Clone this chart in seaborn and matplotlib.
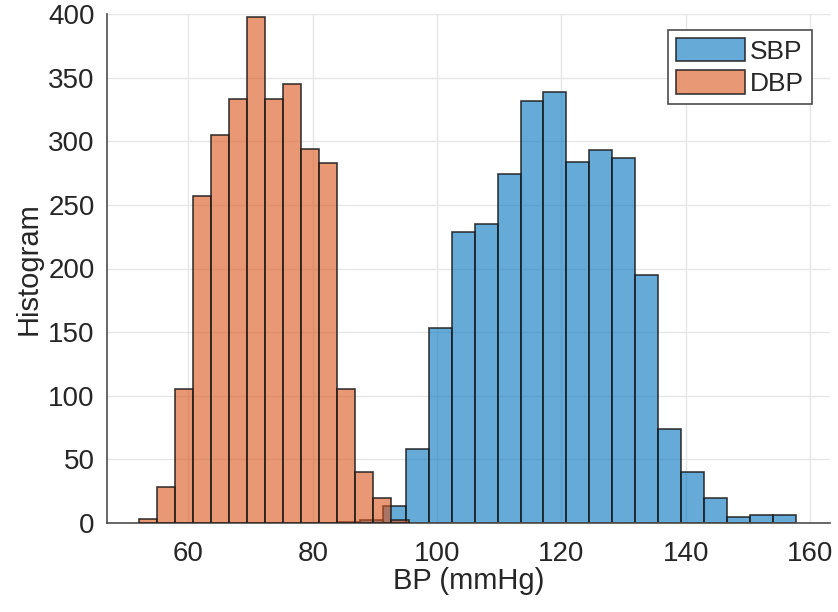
import numpy as np
import pandas as pd
import matplotlib
matplotlib.use("Agg")
import matplotlib.pyplot as plt
import seaborn as sns

# ---- data ----
sbp_edges = [83.9, 87.59, 91.28, 94.97, 98.66, 102.35, 106.04, 109.73, 113.42,
             117.11, 120.8, 124.49, 128.18, 131.87, 135.56, 139.25, 142.94,
             146.63, 150.32, 154.01, 157.7]
sbp_counts = [1, 2, 13, 58, 153, 229, 235, 274, 332, 339, 284, 293, 287, 195,
              74, 40, 20, 5, 6, 6]

dbp_edges = [52.1, 54.99, 57.88, 60.77, 63.66, 66.55, 69.44, 72.33, 75.22,
             78.11, 81.0, 83.89, 86.78, 89.67, 92.56, 95.45]
dbp_counts = [3, 28, 105, 257, 305, 333, 398, 333, 345, 294, 283, 105, 40, 20, 2]

x_ticks = [60, 80, 100, 120, 140, 160]
y_ticks = [0, 50, 100, 150, 200, 250, 300, 350, 400]
series_labels = ["SBP", "DBP"]

sbp_df = pd.DataFrame({
    "bp": [(a + b) / 2 for a, b in zip(sbp_edges[:-1], sbp_edges[1:])],
    "n": sbp_counts})
dbp_df = pd.DataFrame({
    "bp": [(a + b) / 2 for a, b in zip(dbp_edges[:-1], dbp_edges[1:])],
    "n": dbp_counts})

sns.set_style("white")
plt.rcParams["font.family"] = ["Liberation Sans", "DejaVu Sans"]

fig = plt.figure(figsize=(8.38, 6.12), dpi=100)
ax = fig.add_axes([107 / 838, 89 / 612, 723 / 838, 509 / 612])

blue = (0.0, 0.447, 0.741)
orange = (0.85, 0.325, 0.098)
edge = (0.1, 0.1, 0.1, 0.85)

sns.histplot(data=sbp_df, x="bp", weights="n", bins=sbp_edges, ax=ax,
             color=blue, alpha=0.6, edgecolor=edge, linewidth=1.2,
             label=series_labels[0], zorder=2)
sns.histplot(data=dbp_df, x="bp", weights="n", bins=dbp_edges, ax=ax,
             color=orange, alpha=0.6, edgecolor=edge, linewidth=1.2,
             label=series_labels[1], zorder=3)

ax.set_xlim(46.9, 163.2)
ax.set_ylim(0, 400)
ax.set_xticks(x_ticks)
ax.set_yticks(y_ticks)
ax.grid(True, color="#e6e6e6", linewidth=1.0, zorder=0)
ax.set_axisbelow(True)

for s in ["top", "right"]:
    ax.spines[s].set_visible(False)
for s in ["left", "bottom"]:
    ax.spines[s].set_color("#4d4d4d")
    ax.spines[s].set_linewidth(1.2)

ax.tick_params(axis="both", direction="in", length=4, width=1.0,
               color="#4d4d4d", labelsize=20, labelcolor="#262626")
ax.tick_params(axis="x", pad=13)
ax.tick_params(axis="y", pad=9)

ax.set_xlabel("BP (mmHg)", fontsize=21, color="#262626", labelpad=0)
ax.set_ylabel("Histogram", fontsize=21, color="#262626", labelpad=4)

leg = ax.legend(loc="upper right", bbox_to_anchor=(0.975, 0.969),
                fontsize=19, frameon=True, fancybox=False,
                handlelength=2.6, handleheight=1.0, handletextpad=0.2,
                borderpad=0.3, labelspacing=0.25, borderaxespad=0)
leg.get_frame().set_edgecolor("#4d4d4d")
leg.get_frame().set_linewidth(1.2)
leg.get_frame().set_alpha(1)

fig.savefig("out.png", dpi=100)
